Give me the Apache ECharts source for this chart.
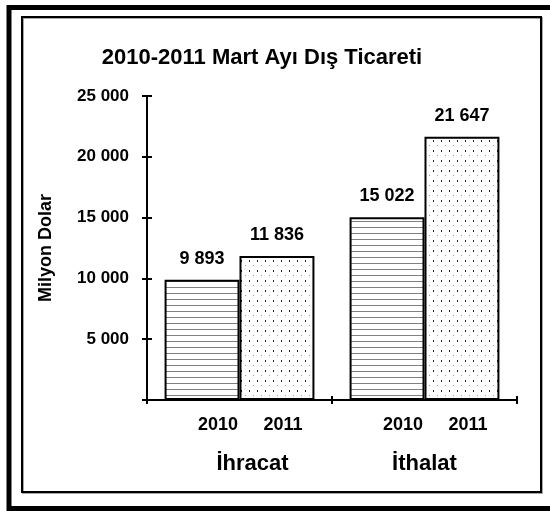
<!DOCTYPE html>
<html>
<head>
<meta charset="utf-8">
<script src="https://cdn.jsdelivr.net/npm/echarts@6/dist/echarts.min.js"></script>
<style>
  html, body { margin: 0; padding: 0; background: #fff; overflow: hidden; }
  #chart { width: 550px; height: 511px; }
</style>
</head>
<body>
<div id="chart"></div>
<script>
const categories = ['İhracat', 'İthalat'];
const years = ['2010', '2011'];
const values2010 = [9893, 15022];
const values2011 = [11836, 21647];
const yMax = 25000;
const yStep = 5000;

const FONT = '"Liberation Sans", Arial, sans-serif';
const fmt = v => String(v).replace(/\B(?=(\d{3})+(?!\d))/g, ' ');

// fill patterns: grey horizontal lines for 2010, dots for 2011
function hatch() {
  const c = document.createElement('canvas');
  c.width = 8; c.height = 6;
  const g = c.getContext('2d');
  g.fillStyle = '#fff'; g.fillRect(0, 0, 8, 6);
  g.fillStyle = '#808080'; g.fillRect(0, 5, 8, 1);
  return c;
}
function dots() {
  const c = document.createElement('canvas');
  c.width = 8; c.height = 10;
  const g = c.getContext('2d');
  g.fillStyle = '#fff'; g.fillRect(0, 0, 8, 10);
  g.fillStyle = '#222'; g.fillRect(1, 0, 1, 2);
  g.fillStyle = '#999'; g.fillRect(5, 5, 1, 1);
  return c;
}

// extra left padding (px) under each category for the two-line label
const catShift = [26, 0];

const chart = echarts.init(document.getElementById('chart'));

const barLabel = {
  show: true,
  position: 'top',
  distance: 12,
  color: '#000',
  fontFamily: FONT,
  fontWeight: 'bold',
  fontSize: 18,
  formatter: p => fmt(p.value)
};

const option = {
  animation: false,
  backgroundColor: '#fff',
  title: {
    text: '2010-2011 Mart Ayı Dış Ticareti',
    left: 257,
    textAlign: 'center',
    top: 42,
    textStyle: { fontFamily: FONT, fontWeight: 'bold', fontSize: 22, color: '#000' }
  },
  graphic: [
    { type: 'rect', shape: { x: 9, y: 7.5, width: 580, height: 501 },
      style: { fill: 'none', stroke: '#000', lineWidth: 5 }, silent: true },
    { type: 'rect', shape: { x: 22, y: 17, width: 519, height: 475 },
      style: { fill: 'none', stroke: '#000', lineWidth: 2,
               shadowColor: 'rgba(0,0,0,0.35)', shadowOffsetX: 1, shadowOffsetY: 1 }, silent: true }
  ],
  grid: { left: 147, right: 33, top: 96, bottom: 111, containLabel: false },
  xAxis: [
    {
      type: 'category',
      data: categories,
      position: 'bottom',
      axisLine: { lineStyle: { color: '#000', width: 2 } },
      axisTick: { show: true, length: 4, lineStyle: { color: '#000', width: 2 } },
      axisLabel: {
        margin: 10,
        interval: 0,
        formatter: (v, i) =>
          '{s|}{y|' + years[0] + '}{y|' + years[1] + '}\n' +
          (catShift[i] ? '{sp' + i + '|}' : '') + '{c|' + v + '}',
        rich: {
          s: { width: 22, lineHeight: 30 },
          y: { width: 65, align: 'center', lineHeight: 30, fontFamily: FONT, fontWeight: 'bold', fontSize: 18, color: '#000' },
          sp0: { width: 26, lineHeight: 47 },
          c: { align: 'center', lineHeight: 47, fontFamily: FONT, fontWeight: 'bold', fontSize: 22, color: '#000' }
        }
      }
    },
    {
      type: 'category',
      data: categories,
      position: 'bottom',
      offset: 0,
      axisLine: { show: false },
      axisTick: { show: true, inside: true, length: 4, lineStyle: { color: '#000', width: 2 } },
      axisLabel: { show: false }
    }
  ],
  yAxis: [
    {
      type: 'value',
      min: 0,
      max: yMax,
      interval: yStep,
      position: 'left',
      name: 'Milyon Dolar',
      nameLocation: 'middle',
      nameGap: 92,
      nameRotate: 90,
      nameTextStyle: { fontFamily: FONT, fontWeight: 'bold', fontSize: 18, color: '#000' },
      axisLine: { show: true, lineStyle: { color: '#000', width: 2 } },
      axisTick: { show: true, length: 5, lineStyle: { color: '#000', width: 2 } },
      axisLabel: {
        margin: 18,
        color: '#000',
        fontFamily: FONT,
        fontWeight: 'bold',
        fontSize: 17,
        formatter: v => (v === 0 ? '' : fmt(v))
      },
      splitLine: { show: false }
    },
    {
      type: 'value',
      min: 0,
      max: yMax,
      interval: yStep,
      position: 'left',
      offset: 0,
      axisLine: { show: false },
      axisTick: { show: true, inside: true, length: 5, lineStyle: { color: '#000', width: 2 } },
      axisLabel: { show: false },
      splitLine: { show: false }
    }
  ],
  series: [
    {
      name: years[0],
      type: 'bar',
      data: values2010,
      barGap: 0,
      barCategoryGap: '19%',
      itemStyle: { color: { image: hatch(), repeat: 'repeat' }, borderColor: '#000', borderWidth: 2 },
      label: barLabel
    },
    {
      name: years[1],
      type: 'bar',
      data: values2011,
      barGap: 0,
      barCategoryGap: '19%',
      itemStyle: { color: { image: dots(), repeat: 'repeat' }, borderColor: '#000', borderWidth: 2 },
      label: barLabel
    }
  ]
};

chart.setOption(option);
</script>
</body>
</html>
